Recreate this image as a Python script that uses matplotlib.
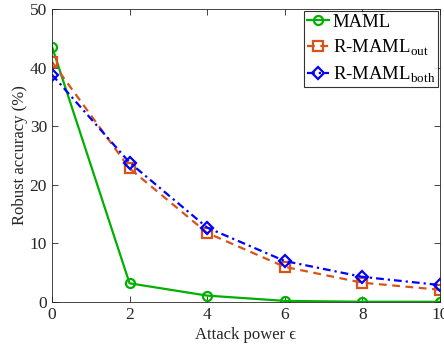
import matplotlib
matplotlib.use("Agg")
import matplotlib.pyplot as plt

eps = [0, 2, 4, 6, 8, 10]
maml = [43.6, 3.2, 1.1, 0.2, 0.05, 0.05]
rmaml_out = [41.0, 22.8, 11.8, 6.0, 3.3, 2.1]
rmaml_both = [38.8, 23.8, 12.7, 7.0, 4.3, 2.9]
xticks = [0, 2, 4, 6, 8, 10]
yticks = [0, 10, 20, 30, 40, 50]

plt.rcParams['font.family'] = ['Liberation Serif', 'DejaVu Serif']
plt.rcParams['mathtext.fontset'] = 'custom'
plt.rcParams['mathtext.rm'] = 'Liberation Serif'

fig = plt.figure(figsize=(4.44, 3.46), dpi=100)
ax = fig.add_axes([0.117, 0.127, 0.874, 0.847])

ax.plot(eps, maml, '-', color='#00b000', lw=1.6, marker='o', ms=6.5, mfc='none', mew=1.6, label='MAML')
ax.plot(eps, rmaml_out, '--', color='#d95319', lw=1.6, marker='s', ms=6.5, mfc='none', mew=1.6,
        dashes=(3.5, 2.5), label='R-MAML$_{\\mathrm{out}}$')
ax.plot(eps, rmaml_both, '-.', color='#0000ff', lw=1.6, marker='D', ms=6, mfc='none', mew=1.6,
        dashes=(3.5, 1.8, 1, 1.8), label='R-MAML$_{\\mathrm{both}}$')

ax.set_xlim(0, 10)
ax.set_ylim(0, 50)
ax.set_xticks(xticks)
ax.set_yticks(yticks)
ax.tick_params(direction='in', top=True, right=True, labelsize=12.5, colors='#262626', length=4, width=0.6)
for s in ax.spines.values():
    s.set_color('#262626')
    s.set_linewidth(0.6)
ax.set_xlabel('Attack power \u03f5', fontsize=12, color='#262626', labelpad=3)
ax.set_ylabel('Robust accuracy (%)', fontsize=12, color='#262626', labelpad=1)

leg = ax.legend(loc='upper right', fontsize=13.5, frameon=True, fancybox=False, edgecolor='black',
                borderaxespad=0.1, handlelength=1.2, handletextpad=0.2, labelspacing=0.35, borderpad=0.15)
leg.get_frame().set_linewidth(0.8)

fig.savefig('out.png', dpi=100)
